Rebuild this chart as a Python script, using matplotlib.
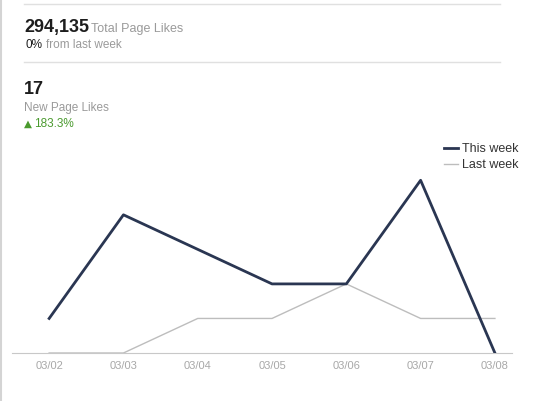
import matplotlib.pyplot as plt
from matplotlib.lines import Line2D

# datos
dias = ["03/02", "03/03", "03/04", "03/05", "03/06", "03/07", "03/08"]
esta_semana = [1, 4, 3, 2, 2, 5, 0]
semana_pasada = [0, 0, 1, 1, 2, 1, 1]

total_likes = "294,135"
nuevos = "17"
cambio = "183.3%"

plt.rcParams["font.family"] = ["Liberation Sans", "DejaVu Sans"]

fig = plt.figure(figsize=(5.44, 4.01), dpi=100)
W, H = 544, 401

def fx(px):
    return px / W

def fy(py):
    return 1 - py / H

# bordes y separadores
fig.add_artist(Line2D([fx(1), fx(1)], [0, 1], color="#d4d4d4", lw=1.5))
for y in (4, 62):
    fig.add_artist(Line2D([fx(24), fx(500)], [fy(y), fy(y)], color="#e0e0e0", lw=1))

# cabecera
fig.text(fx(24), fy(32), total_likes, fontsize=13, fontweight="bold", color="#1d1d1d")
fig.text(fx(91), fy(32), "Total Page Likes", fontsize=9, color="#9a9a9a")
fig.text(fx(26), fy(48), "0%", fontsize=8.5, color="#1d1d1d")
fig.text(fx(46), fy(48), "from last week", fontsize=8.5, color="#9a9a9a")

fig.text(fx(24), fy(94), nuevos, fontsize=13, fontweight="bold", color="#1d1d1d")
fig.text(fx(24), fy(111), "New Page Likes", fontsize=8.5, color="#9a9a9a")
fig.text(fx(24), fy(127), "\u25b2", fontsize=7.5, color="#4a9a2e", family="DejaVu Sans")
fig.text(fx(34), fy(127), cambio, fontsize=8.5, color="#4a9a2e")

# grafico
ax = fig.add_axes([fx(12), fy(353), fx(500), (353 - 163) / H])
x = list(range(len(dias)))
ax.plot(x, semana_pasada, color="#bdbdbd", lw=1, label="Last week", zorder=2)
ax.plot(x, esta_semana, color="#2a3652", lw=2, label="This week", zorder=3)
ax.set_xlim(-0.5, 6.23)
ax.set_ylim(0, 5.5)
for s in ("top", "right", "left"):
    ax.spines[s].set_visible(False)
ax.spines["bottom"].set_color("#c8c8c8")
ax.set_yticks([])
ax.set_xticks(x)
ax.set_xticklabels(dias, fontsize=8, color="#a8a8a8")
ax.tick_params(axis="x", length=0, pad=6)

handles, labels = ax.get_legend_handles_labels()
leg = ax.legend(handles[::-1], labels[::-1], loc="upper left", bbox_to_anchor=(fx(444 - 12) / fx(500), 1.105),
                frameon=False, fontsize=9, handlelength=1.1, handletextpad=0.3, labelspacing=0.35,
                borderaxespad=0, borderpad=0)
for t in leg.get_texts():
    t.set_color("#333333")

fig.savefig("out.png", dpi=100)
